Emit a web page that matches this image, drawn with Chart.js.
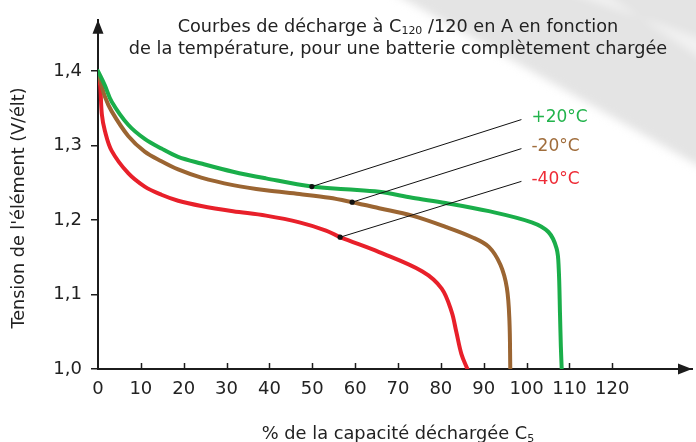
<!DOCTYPE html>
<html>
<head>
<meta charset="utf-8">
<script src="https://cdn.jsdelivr.net/npm/chart.js@4.4.1/dist/chart.umd.min.js"></script>
<style>
    html, body { margin: 0; padding: 0; background: #fff; }
    #wrap { width: 696px; height: 442px; position: relative; }
</style>
</head>
<body>
<div id="wrap"><canvas id="dischargeChart"></canvas></div>
<script>
// ── DATA ──
const xTicks = [0, 10, 20, 30, 40, 50, 60, 70, 80, 90, 100, 110, 120];
const yTicks = [1.0, 1.1, 1.2, 1.3, 1.4];
const yTickLabels = ['1,0', '1,1', '1,2', '1,3', '1,4'];

const seriesNames = ['+20°C', '-20°C', '-40°C'];

// +20°C
const cap20 = [0, 1.6, 3.2, 7.05, 10.9, 14.8, 18.7, 24.1, 31.5, 39.2, 49.9, 57.8, 65.6, 73.3, 81.1, 91.2, 101.2, 105.1, 107.0, 107.5, 107.8, 108.0, 108.2];
const volt20 = [1.400, 1.381, 1.359, 1.328, 1.309, 1.296, 1.285, 1.276, 1.265, 1.256, 1.245, 1.2415, 1.238, 1.230, 1.223, 1.212, 1.197, 1.184, 1.162, 1.135, 1.074, 1.030, 1.000];

// -20°C
const capM20 = [0, 0.5, 1.6, 3.2, 7.05, 10.9, 14.8, 18.7, 24.1, 31.5, 39.2, 47, 54, 59.3, 65.6, 73.3, 81.1, 87.3, 91.2, 93.9, 95.4, 96.0, 96.2];
const voltM20 = [1.398, 1.388, 1.366, 1.346, 1.313, 1.292, 1.279, 1.268, 1.257, 1.247, 1.240, 1.235, 1.230, 1.224, 1.216, 1.206, 1.191, 1.177, 1.164, 1.140, 1.109, 1.065, 1.000];

// -40°C
const capM40 = [0, 0.5, 0.9, 1.6, 3.2, 7.05, 10.9, 14.8, 18.7, 24.1, 31.5, 39.2, 47, 53.2, 56.5, 65.6, 75.7, 80.2, 82.5, 83.6, 84.8, 86.2];
const voltM40 = [1.395, 1.381, 1.342, 1.320, 1.293, 1.263, 1.245, 1.234, 1.226, 1.219, 1.212, 1.206, 1.197, 1.186, 1.177, 1.157, 1.131, 1.108, 1.077, 1.050, 1.020, 1.000];

// leader lines: point on curve -> label end
const leaderFrom = [[49.9, 1.245], [59.3, 1.224], [56.5, 1.177]];
const leaderTo = [[98.8, 1.335], [98.8, 1.296], [98.8, 1.252]];

const COLORS = ['#1aae4a', '#9b6532', '#e8202a'];
const LABEL_COLORS = ['#22b34c', '#a06d3c', '#ee2b36'];
const INK = '#1c1c1c';
const FONT = '"DejaVu Sans", sans-serif';

function toPoints(xs, ys) {
    return xs.map((x, i) => ({ x: x, y: ys[i] }));
}

// ── PLUGINS ──
function drawRich(ctx, parts, cx, cy, size) {
    // parts: [text, isSubscript]
    let total = 0;
    const widths = parts.map(([t, sub]) => {
        ctx.font = (sub ? size * 0.62 : size) + 'px ' + FONT;
        const w = ctx.measureText(t).width;
        total += w;
        return w;
    });
    let x = cx - total / 2;
    ctx.textBaseline = 'alphabetic';
    ctx.textAlign = 'left';
    parts.forEach(([t, sub], i) => {
        ctx.font = (sub ? size * 0.62 : size) + 'px ' + FONT;
        ctx.fillText(t, x, cy + size * 0.36 + (sub ? size * 0.12 : 0));
        x += widths[i];
    });
}

const decorPlugin = {
    id: 'decor',
    beforeDraw(chart) {
        const { ctx, width } = chart;
        ctx.save();
        ctx.fillStyle = '#fff';
        ctx.fillRect(0, 0, width, chart.height);
        // grey backdrop in the corner
        ctx.filter = 'blur(4px)';
        ctx.fillStyle = '#e4e4e4';
        ctx.beginPath();
        ctx.moveTo(388, -10);
        ctx.lineTo(width + 10, -10);
        ctx.lineTo(width + 10, 170);
        ctx.closePath();
        ctx.fill();
        ctx.fillStyle = 'rgba(255,255,255,0.5)';
        ctx.beginPath();
        ctx.moveTo(560, -10);
        ctx.lineTo(600, -10);
        ctx.lineTo(width + 10, 62);
        ctx.lineTo(width + 10, 40);
        ctx.closePath();
        ctx.fill();
        ctx.filter = 'none';
        ctx.restore();
    },
    afterDraw(chart) {
        const { ctx, chartArea, scales } = chart;
        const xs = scales.x, ys = scales.y;
        ctx.save();
        ctx.fillStyle = INK;
        ctx.strokeStyle = INK;

        // arrow heads
        ctx.beginPath();
        ctx.moveTo(chartArea.left, chartArea.top);
        ctx.lineTo(chartArea.left - 5.5, chartArea.top + 14);
        ctx.lineTo(chartArea.left + 5.5, chartArea.top + 14);
        ctx.closePath();
        ctx.fill();
        ctx.beginPath();
        ctx.moveTo(chartArea.right, chartArea.bottom);
        ctx.lineTo(chartArea.right - 14, chartArea.bottom - 5.5);
        ctx.lineTo(chartArea.right - 14, chartArea.bottom + 5.5);
        ctx.closePath();
        ctx.fill();

        // x tick marks pointing up
        ctx.lineWidth = 1.5;
        xTicks.slice(1).forEach(v => {
            const px = Math.round(xs.getPixelForValue(v)) + 0.5;
            ctx.beginPath();
            ctx.moveTo(px, chartArea.bottom);
            ctx.lineTo(px, chartArea.bottom - 6);
            ctx.stroke();
        });

        // titles
        ctx.fillStyle = '#222';
        drawRich(ctx, [['Courbes de décharge à C', false], ['120', true], [' /120 en A en fonction', false]], 398, 26, 17.7);
        drawRich(ctx, [['de la température, pour une batterie complètement chargée', false]], 398, 48, 17.7);
        drawRich(ctx, [['% de la capacité déchargée C', false], ['5', true]], 398, 433, 17.8);

        ctx.save();
        ctx.translate(18, 208);
        ctx.rotate(-Math.PI / 2);
        drawRich(ctx, [["Tension de l'élément (V/élt)", false]], 0, 0, 17.6);
        ctx.restore();

        // series labels at leader ends
        ctx.font = '17px ' + FONT;
        ctx.textAlign = 'left';
        ctx.textBaseline = 'middle';
        seriesNames.forEach((name, i) => {
            const px = xs.getPixelForValue(leaderTo[i][0]) + 10;
            const py = ys.getPixelForValue(leaderTo[i][1]) - 2;
            ctx.fillStyle = LABEL_COLORS[i];
            ctx.fillText(name, px, py);
        });
        ctx.restore();
    }
};

// ── CHART SETUP ──
const leaderSets = leaderFrom.map((p, i) => ({
    label: 'leader ' + seriesNames[i],
    data: [{ x: p[0], y: p[1] }, { x: leaderTo[i][0], y: leaderTo[i][1] }],
    borderColor: '#111',
    borderWidth: 1,
    pointRadius: [2.6, 0],
    pointBackgroundColor: '#111',
    pointBorderWidth: 0,
    tension: 0
}));

const curveSets = [[cap20, volt20], [capM20, voltM20], [capM40, voltM40]].map(([xs, ys], i) => ({
    label: seriesNames[i],
    data: toPoints(xs, ys),
    borderColor: COLORS[i],
    borderWidth: 4,
    pointRadius: 0,
    tension: 0.35,
    borderCapStyle: 'round',
    borderJoinStyle: 'round'
}));

const ctx = document.getElementById('dischargeChart').getContext('2d');
const dischargeChart = new Chart(ctx, {
    type: 'line',
    data: { datasets: [...leaderSets, ...curveSets] },
    options: {
        responsive: true,
        maintainAspectRatio: false,
        devicePixelRatio: 1,
        animation: false,
        layout: { padding: { top: 13, right: 2, left: 0, bottom: 0 } },
        plugins: {
            legend: { display: false },
            tooltip: { enabled: false },
            title: { display: false }
        },
        scales: {
            x: {
                type: 'linear',
                min: 0,
                max: 138.6,
                afterBuildTicks: s => { s.ticks = xTicks.map(v => ({ value: v })); },
                afterFit: s => { s.height = 73; },
                ticks: {
                    autoSkip: false,
                    maxRotation: 0,
                    padding: 10,
                    color: '#222',
                    font: { family: FONT, size: 18 },
                    callback: (v, i) => String(xTicks[i])
                },
                grid: { display: false, drawTicks: false },
                border: { display: true, color: INK, width: 2 }
            },
            y: {
                type: 'linear',
                min: 1.0,
                max: 1.469,
                afterBuildTicks: s => { s.ticks = yTicks.map(v => ({ value: v })); },
                afterFit: s => { s.width = 98; },
                ticks: {
                    padding: 9,
                    color: '#222',
                    font: { family: FONT, size: 18 },
                    callback: (v, i) => yTickLabels[i]
                },
                grid: {
                    display: true,
                    drawOnChartArea: false,
                    drawTicks: true,
                    tickLength: 7,
                    color: INK,
                    lineWidth: 1.5
                },
                border: { display: true, color: INK, width: 2 }
            }
        }
    },
    plugins: [decorPlugin]
});
</script>
</body>
</html>
